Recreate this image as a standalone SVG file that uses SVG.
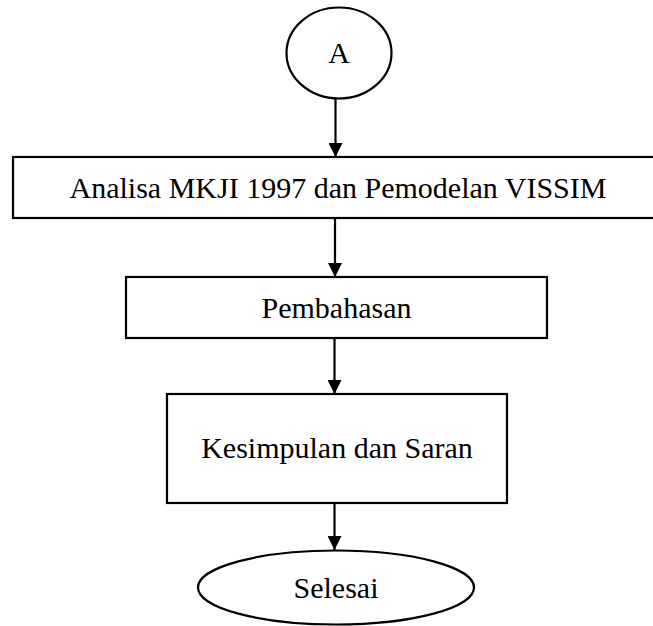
<svg xmlns="http://www.w3.org/2000/svg" width="653" height="626" viewBox="0 0 653 626">
<style>
.s{fill:#fff;stroke:#000;stroke-width:2.2}
.t{font-family:"Liberation Serif","Times New Roman",serif;font-size:30px;fill:#000;text-anchor:middle}
.c{stroke:#000;stroke-width:2.2;fill:none}
</style>
<defs>
<marker id="ah" markerWidth="14" markerHeight="14" refX="14" refY="7" orient="auto" markerUnits="userSpaceOnUse">
<path d="M0,0 L14,7 L0,14 Z" fill="#000"/>
</marker>
</defs>
<rect width="653" height="626" fill="#fff"/>
<g id="connectors">
<line class="c" x1="335.5" y1="98.5" x2="335.5" y2="157" marker-end="url(#ah)"/>
<line class="c" x1="335" y1="218" x2="335" y2="277" marker-end="url(#ah)"/>
<line class="c" x1="334.5" y1="338" x2="334.5" y2="394" marker-end="url(#ah)"/>
<line class="c" x1="334.5" y1="503" x2="334.5" y2="550" marker-end="url(#ah)"/>
</g>
<g id="nodeA">
<ellipse class="s" cx="339" cy="53" rx="52.5" ry="45.5"/>
<text class="t" x="339" y="63">A</text>
</g>
<g id="analisa">
<rect class="s" x="13" y="157" width="652" height="61"/>
<text class="t" x="338" y="198">Analisa MKJI 1997 dan Pemodelan VISSIM</text>
</g>
<g id="pembahasan">
<rect class="s" x="126" y="277" width="421" height="61"/>
<text class="t" x="336.5" y="318">Pembahasan</text>
</g>
<g id="kesimpulan">
<rect class="s" x="167" y="394" width="340" height="109"/>
<text class="t" x="337" y="458">Kesimpulan dan Saran</text>
</g>
<g id="selesai">
<ellipse class="s" cx="336" cy="587.5" rx="138" ry="37"/>
<text class="t" x="336" y="598">Selesai</text>
</g>
</svg>
